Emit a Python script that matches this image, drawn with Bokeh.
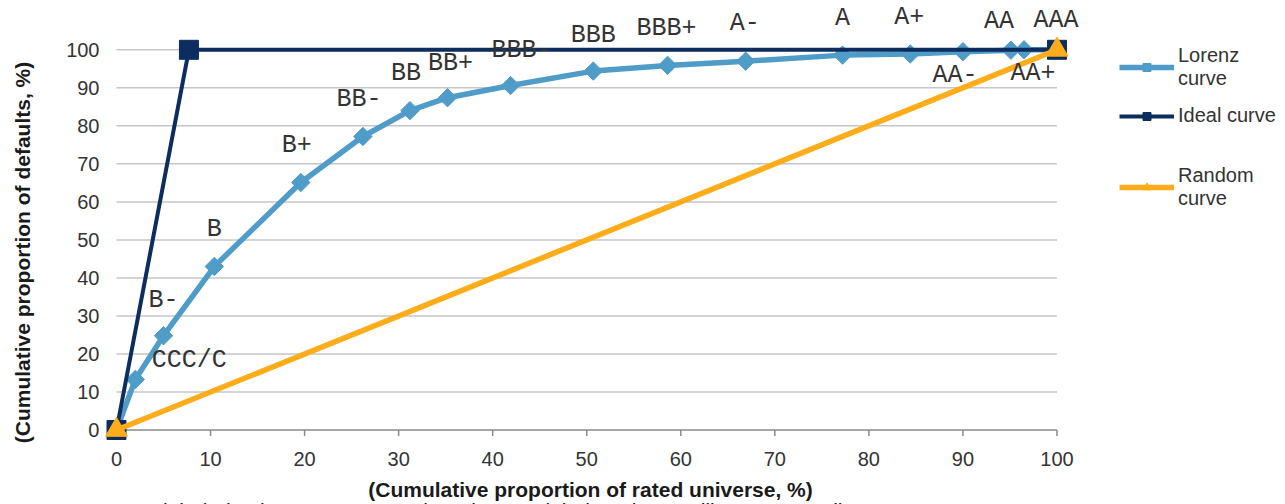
import math
from bokeh.plotting import figure
from bokeh.models import Range1d, Legend, LegendItem, Label, ColumnDataSource
from bokeh.core.properties import value
from bokeh.embed import file_html
from bokeh.resources import INLINE

# ---------------- data ----------------
ratings = ["CCC/C", "B-", "B", "B+", "BB-", "BB", "BB+", "BBB-", "BBB", "BBB+",
           "A-", "A", "A+", "AA-", "AA", "AA+", "AAA"]
lorenz_x = [0, 2.0, 5.0, 10.4, 19.6, 26.2, 31.2, 35.2, 41.9, 50.7, 58.6,
            66.9, 77.2, 84.4, 90.0, 95.1, 96.5, 100]
lorenz_y = [0, 13.3, 24.8, 43.0, 65.1, 77.2, 84.0, 87.4, 90.6, 94.4, 95.9,
            97.0, 98.6, 98.9, 99.5, 99.9, 100, 100]
ideal_x = [0, 7.7, 100]
ideal_y = [0, 100, 100]
random_x = [0, 100]
random_y = [0, 100]
x_ticks = [0, 10, 20, 30, 40, 50, 60, 70, 80, 90, 100]
y_ticks = [0, 10, 20, 30, 40, 50, 60, 70, 80, 90, 100]

x_title = "(Cumulative proportion of rated universe, %)"
y_title = "(Cumulative proportion of defaults, %)"
source_note = "Sources: S&P Global Fixed Income Research and S&P Global Market Intelligence's CreditPro\u00ae."
legend_labels = ["Lorenz\ncurve", "Ideal curve", "Random\ncurve"]

# label placement (pixel offsets of each rating label from its point)
label_dx = [54, 0, 0, -4, -4, -4, 3, 11, 0, -1, -1, 0, -1, -8, -12, 9, -1]
label_dy = [-19, -35, -37, -37, -37, -37, -34, -35, -36, -37, -38, -37, -36, 24, -29, 24, -29]

LIGHT = "#4f9cc8"
NAVY = "#0c2d5e"
ORANGE = "#fdad1a"
TXT = "#333333"
AXIS = "#8a8a8a"

# the frame fills the whole canvas; all texts are drawn inside it
p = figure(width=1285, height=504,
           x_range=Range1d(-12.334, 124.30), y_range=Range1d(-19.595, 112.966),
           output_backend="svg", toolbar_location=None,
           x_axis_location=None, y_axis_location=None,
           min_border=0, min_border_left=0, min_border_right=0,
           min_border_top=0, min_border_bottom=0)
p.outline_line_color = None
p.grid.visible = False
p.background_fill_color = "white"

# gridlines from 0 to 100 only
grid_vals = y_ticks[1:]
p.segment(x0=[x_ticks[0]] * len(grid_vals), x1=[x_ticks[-1]] * len(grid_vals),
          y0=grid_vals, y1=grid_vals, line_color="#c6c6c6", line_width=1.5)

# x axis: line, outward ticks and tick labels
p.segment(x0=[x_ticks[0]], x1=[x_ticks[-1]], y0=[y_ticks[0]], y1=[y_ticks[0]],
          line_color=AXIS, line_width=1.5)
p.ray(x=x_ticks, y=[y_ticks[0]] * len(x_ticks), length=6, length_units="screen",
      angle=-math.pi / 2, line_color=AXIS, line_width=1.5)
p.text(x=x_ticks, y=[y_ticks[0]] * len(x_ticks), text=[str(t) for t in x_ticks],
       y_offset=22, text_align="center", text_baseline="top",
       text_font=value("Liberation Sans"), text_font_size="20px", text_color=TXT)

# y tick labels
p.text(x=[x_ticks[0]] * len(y_ticks), y=y_ticks, text=[str(t) for t in y_ticks],
       x_offset=-17, text_align="right", text_baseline="middle",
       text_font=value("Liberation Sans"), text_font_size="20px", text_color=TXT)

# series
r_lor_line = p.line(lorenz_x, lorenz_y, line_color=LIGHT, line_width=5.5)
r_lor_pts = p.scatter(lorenz_x, lorenz_y, marker="square", angle=math.pi / 4, size=13,
                      fill_color=LIGHT, line_color=LIGHT)
r_id_line = p.line(ideal_x, ideal_y, line_color=NAVY, line_width=4)
r_id_pts = p.scatter(ideal_x, ideal_y, marker="square", size=19, fill_color=NAVY, line_color=NAVY)
r_rn_line = p.line(random_x, random_y, line_color=ORANGE, line_width=5.5)
r_rn_pts = p.scatter(random_x, random_y, marker="triangle", size=22, fill_color=ORANGE, line_color=ORANGE)

# rating labels
lab_src = ColumnDataSource(dict(x=lorenz_x[1:], y=lorenz_y[1:], t=ratings, dx=label_dx, dy=label_dy))
p.text(x="x", y="y", text="t", x_offset="dx", y_offset="dy", source=lab_src,
       text_align="center", text_baseline="middle", text_font=value("Liberation Mono"),
       text_font_size="25px", text_color=TXT)

# titles (screen units from the canvas bottom-left, since the frame is the canvas)
p.add_layout(Label(x=590, y=504 - 489, x_units="screen", y_units="screen", text=x_title,
                   text_align="center", text_baseline="middle", text_font="Liberation Sans",
                   text_font_style="bold", text_font_size="21px", text_color="#1a1a1a"))
p.add_layout(Label(x=22, y=504 - 252, x_units="screen", y_units="screen", text=y_title,
                   angle=math.pi / 2, text_align="center", text_baseline="middle",
                   text_font="Liberation Sans", text_font_style="bold", text_font_size="21px",
                   text_color="#1a1a1a"))
p.add_layout(Label(x=10, y=504 - 510, x_units="screen", y_units="screen", text=source_note,
                   text_align="left", text_baseline="middle", text_font="Liberation Sans",
                   text_font_size="21px", text_color="#1a1a1a"))

# legend: one entry per box so each sits where the reference has it
legend_renderers = [[r_lor_line, r_lor_pts], [r_id_line, r_id_pts], [r_rn_line, r_rn_pts]]
legend_bottoms = [414, 377, 294]
for lab, rends, yb in zip(legend_labels, legend_renderers, legend_bottoms):
    lg = Legend(items=[LegendItem(label=lab, renderers=rends)],
                location=(1119, yb), glyph_width=55, glyph_height=20, label_standoff=4,
                spacing=0, padding=0, margin=0, border_line_color=None,
                background_fill_alpha=0, label_text_font="Liberation Sans",
                label_text_font_size="20px", label_text_color=TXT)
    p.add_layout(lg, "center")

open("out.html", "w").write(file_html(p, INLINE))
